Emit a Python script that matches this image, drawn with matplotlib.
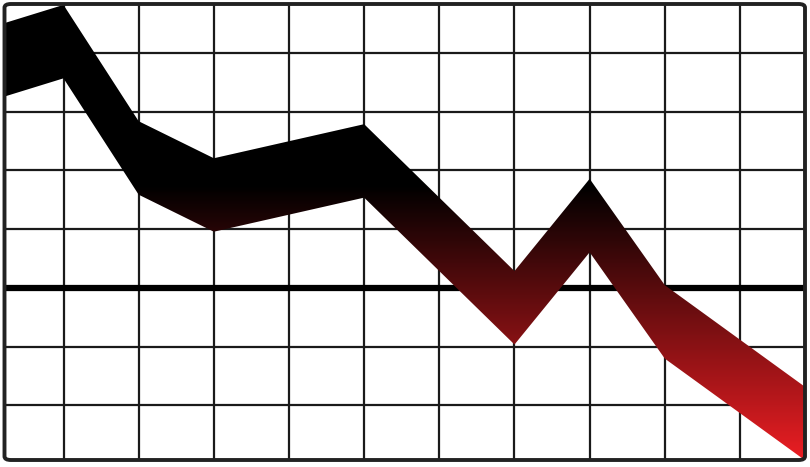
import numpy as np
import matplotlib
matplotlib.use("Agg")
import matplotlib.pyplot as plt
from matplotlib.colors import LinearSegmentedColormap
from matplotlib.patches import FancyBboxPatch

# centre line of the falling band, in grid cells (x: columns, y: rows above the zero line)
points_x = [-0.785, 0, 1, 2, 4, 6, 7, 8, 9.865]
points_y = [3.88, 4.19, 2.21, 1.58, 2.16, -0.34, 1.23, -0.58, -2.31]
grid_x = list(range(10))
grid_y = [-2, -1, 0, 1, 2, 3, 4]

band_half = 0.625  # half of the band's vertical thickness
x0, x1 = -0.785, 9.865
y0, y1 = -2.93, 4.83

fig = plt.figure(figsize=(8.1, 4.67), dpi=100)
ax = fig.add_axes([4.5 / 810, 7 / 467, 800.5 / 810, 456 / 467])
ax.set_xlim(x0, x1)
ax.set_ylim(y0, y1)

ax.set_xticks(grid_x)
ax.set_yticks(grid_y)
ax.tick_params(length=0, labelbottom=False, labelleft=False)
ax.grid(True, color="#1a1a1a", linewidth=1.6, zorder=0)
ax.set_axisbelow(True)
ax.axhline(0, color="black", linewidth=4.5, zorder=1)

for s in ax.spines.values():
    s.set_visible(False)
frame = FancyBboxPatch((0, 0), 1, 1, boxstyle="round,pad=0,rounding_size=0.008",
                       transform=ax.transAxes, fill=False, edgecolor="#222222",
                       linewidth=2.8, zorder=5, clip_on=False)
ax.add_patch(frame)

xs = np.array(points_x)
ys = np.array(points_y)
band = ax.fill_between(xs, ys - band_half, ys + band_half, color="none",
                       linewidth=0, zorder=2)

# vertical gradient: red at the bottom, black from about y=1.75 upwards
cmap = LinearSegmentedColormap.from_list("fall", ["#eb1e23", "#000000"])
yy = np.linspace(y1, y0, 400).reshape(-1, 1)
img = ax.imshow(yy, cmap=cmap, vmin=y0, vmax=1.75, aspect="auto",
                extent=(x0, x1, y0, y1), zorder=3, interpolation="bilinear")
img.set_clip_path(band.get_paths()[0], transform=ax.transData)

fig.savefig("out.png", dpi=100)
